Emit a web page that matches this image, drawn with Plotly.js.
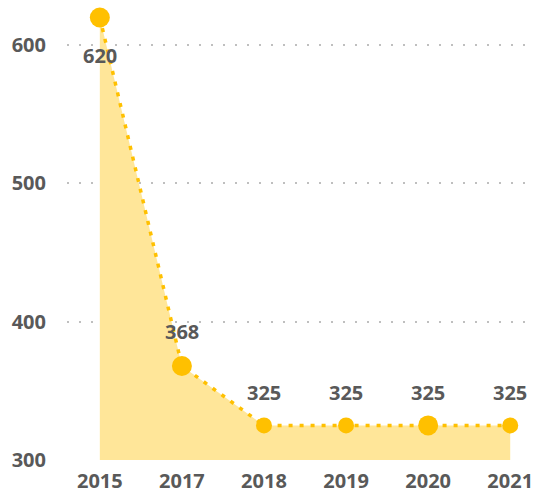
<!DOCTYPE html>
<html>
<head>
<meta charset="utf-8">
<script src="https://cdn.plot.ly/plotly-3.0.1.min.js"></script>
<style>html,body{margin:0;padding:0;background:#fff;}#chart{width:535px;height:493px;}</style>
</head>
<body>
<div id="chart"></div>
<script>
const years = ["2015", "2017", "2018", "2019", "2020", "2021"];
const values = [620, 368, 325, 325, 325, 325];
const labels = ["620", "368", "325", "325", "325", "325"];
const yTicks = [300, 400, 500, 600];

const markerSizes = [20, 20, 16, 16, 20, 16];
const labelShift = [-38, 34, 33, 33, 33, 33];

const textColor = "#595959";
const fontFam = "'Open Sans', 'Noto Sans', sans-serif";

const areaTrace = {
  x: years,
  y: values,
  type: "scatter",
  mode: "lines",
  fill: "tozeroy",
  fillcolor: "#FFE699",
  line: {color: "#FFC000", width: 3.5, dash: "4px,7px"},
  hoverinfo: "none"
};

const markerTrace = {
  x: years,
  y: values,
  type: "scatter",
  mode: "markers",
  marker: {color: "#FFC000", size: markerSizes, opacity: 1, line: {width: 0}},
  cliponaxis: false,
  hoverinfo: "none"
};

const annotations = years.map((yr, i) => ({
  x: i, y: values[i], xref: "x", yref: "y",
  text: "<b>" + labels[i] + "</b>", showarrow: false, yshift: labelShift[i],
  font: {family: fontFam, size: 20, color: textColor}
}));

const layout = {
  width: 535, height: 493,
  margin: {l: 67, r: 10, t: 5, b: 33},
  paper_bgcolor: "#fff", plot_bgcolor: "#fff",
  showlegend: false,
  font: {family: fontFam, color: textColor},
  xaxis: {
    type: "category",
    range: [-0.4, 5.18],
    showgrid: false, zeroline: false, showline: false,
    ticks: "",
    ticklabelstandoff: 7,
    tickfont: {family: fontFam, size: 20, color: textColor, weight: "bold"}
  },
  yaxis: {
    range: [300, 629],
    tickvals: yTicks,
    ticktext: yTicks.map(String),
    showgrid: true, gridcolor: "#BFBFBF", gridwidth: 2, griddash: "2px,10px",
    zeroline: false, showline: false, ticks: "",
    ticklabelstandoff: 20,
    tickfont: {family: fontFam, size: 20, color: textColor, weight: "bold"}
  },
  annotations: annotations
};

Plotly.newPlot("chart", [areaTrace, markerTrace], layout, {displayModeBar: false, staticPlot: true});
</script>
</body>
</html>
